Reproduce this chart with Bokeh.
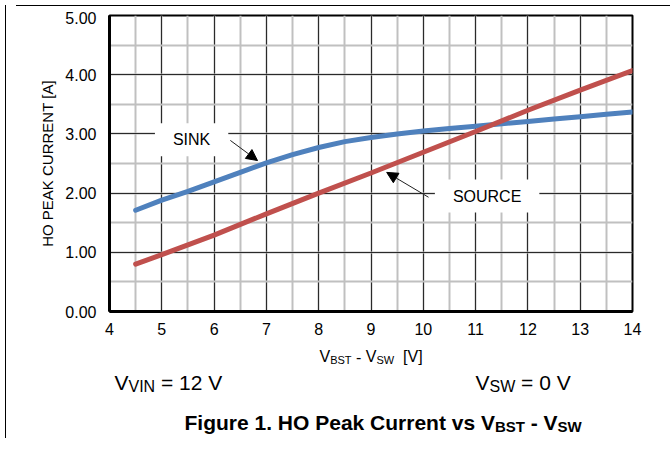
from bokeh.plotting import figure
from bokeh.models import (Label, Arrow, NormalHead, Range1d, SingleIntervalTicker,
                          NumeralTickFormatter, Div)
from bokeh.layouts import column, row
from bokeh.embed import file_html
from bokeh.resources import INLINE

# ---------------- data ----------------
sink_voltage = [4.5, 5.0, 5.5, 6.0, 6.5, 7.0, 7.5, 8.0, 8.5, 9.0, 9.5,
                10.0, 10.5, 11.0, 11.5, 12.0, 12.5, 13.0, 13.5, 14.0]
sink_current = [1.71, 1.88, 2.03, 2.19, 2.35, 2.51, 2.65, 2.77, 2.87, 2.94, 3.00,
                3.05, 3.09, 3.13, 3.17, 3.21, 3.25, 3.29, 3.33, 3.37]
source_voltage = [4.5, 5.0, 6.0, 7.0, 8.0, 9.0, 10.0, 11.0, 12.0, 13.0, 14.0]
source_current = [0.80, 0.96, 1.29, 1.65, 2.00, 2.34, 2.69, 3.04, 3.40, 3.74, 4.07]

x_min, x_max = 4, 14
y_min, y_max = 0, 5

FONT = "Liberation Sans"

# page geometry
PAGE_L, PAGE_T = 8, 8
COL_X = PAGE_L + 1          # after the 1px left rule
MAIN_TOP = PAGE_T + 1       # after the 1px top rule
MAIN_H = 336
NOTES_H = 96
FIG_W = 654
FRAME_L, FRAME_R = 107, 630
BL = FRAME_L - COL_X
BR = (COL_X + FIG_W) - FRAME_R
V_FIX = 2   # empirical vertical offset of the layout

p = figure(width=FIG_W, height=MAIN_H,
           x_range=Range1d(x_min, x_max), y_range=Range1d(y_min, y_max),
           output_backend="svg", toolbar_location=None,
           min_border_left=BL, min_border_right=BR,
           min_border_top=15 - MAIN_TOP - V_FIX,
           min_border_bottom=(MAIN_TOP + MAIN_H) - 311 + V_FIX)

p.background_fill_color = "white"
p.border_fill_color = "white"
p.outline_line_color = "black"
p.outline_line_width = 2

xt = SingleIntervalTicker(interval=1, num_minor_ticks=2)
yt = SingleIntervalTicker(interval=1, num_minor_ticks=2)
p.xaxis.ticker = xt
p.yaxis.ticker = yt
p.xgrid.ticker = xt
p.ygrid.ticker = yt
p.yaxis.formatter = NumeralTickFormatter(format="0.00")

for ax in (p.xaxis[0], p.yaxis[0]):
    ax.axis_line_color = "black"
    ax.axis_line_width = 3
    ax.major_tick_out = 0
    ax.major_tick_in = 0
    ax.minor_tick_out = 0
    ax.minor_tick_in = 0
    ax.major_label_text_font = FONT
    ax.major_label_text_font_size = "16px"
    ax.major_label_text_color = "black"
p.xaxis.major_label_standoff = 11
p.yaxis.major_label_standoff = 13

p.yaxis.axis_label = "HO PEAK CURRENT [A]"
p.yaxis.axis_label_text_font = FONT
p.yaxis.axis_label_text_font_size = "15px"
p.yaxis.axis_label_text_font_style = "normal"
p.yaxis.axis_label_text_color = "black"
p.yaxis.axis_label_standoff = 6

for g in (p.xgrid[0], p.ygrid[0]):
    g.grid_line_color = "#2a2a2a"
    g.grid_line_width = 1
    g.minor_grid_line_color = "#c0c0c0"
    g.minor_grid_line_width = 2
    g.level = "underlay"

p.line(sink_voltage, sink_current, line_color="#4F81BD", line_width=5, line_cap="round")
p.line(source_voltage, source_current, line_color="#C0504D", line_width=5, line_cap="round")

# annotation boxes
p.add_layout(Label(x=5.57, y=2.90, text="SINK", text_font=FONT, text_font_size="16px",
                   text_align="center", text_baseline="middle", text_color="black",
                   background_fill_color="white",
                   padding=dict(left=18, right=18, top=8, bottom=8)))
p.add_layout(Label(x=11.22, y=1.95, text="SOURCE", text_font=FONT, text_font_size="16px",
                   text_align="center", text_baseline="middle", text_color="black",
                   background_fill_color="white",
                   padding=dict(left=18, right=18, top=8, bottom=8)))

p.add_layout(Arrow(x_start=6.31, y_start=2.89, x_end=6.83, y_end=2.55,
                   line_color="#202020", line_width=1,
                   end=NormalHead(size=11, fill_color="black", line_color="black")))
p.add_layout(Arrow(x_start=10.10, y_start=1.93, x_end=9.30, y_end=2.35,
                   line_color="#202020", line_width=1,
                   end=NormalHead(size=11, fill_color="black", line_color="black")))

# ---------------- notes panel (page-pixel data coordinates) ----------------
NOTES_TOP = MAIN_TOP + MAIN_H
Y_FIX = 10   # empirical layout offset of the second panel
q = figure(width=FIG_W, height=NOTES_H,
           x_range=Range1d(FRAME_L, FRAME_R),
           y_range=Range1d(NOTES_TOP + NOTES_H + Y_FIX, NOTES_TOP + Y_FIX),
           output_backend="svg", toolbar_location=None,
           x_axis_location=None, y_axis_location=None,
           min_border_left=BL, min_border_right=BR, min_border_top=0, min_border_bottom=0)
q.grid.visible = False
q.outline_line_color = None
q.background_fill_color = "white"
q.border_fill_color = "white"

W_REG = {'V': 667, 'I': 278, 'N': 722, 'B': 667, 'S': 667, 'T': 611, 'W': 944, ' ': 278,
         '-': 333, '[': 278, ']': 278, '=': 584, '0': 556, '1': 556, '2': 556}
W_BOLD = {'F': 611, 'i': 278, 'g': 611, 'u': 611, 'r': 389, 'e': 556, ' ': 278, '1': 556,
          '.': 278, 'H': 722, 'O': 778, 'P': 667, 'a': 556, 'k': 556, 'C': 722, 'n': 611,
          't': 333, 'v': 556, 's': 556, 'V': 667, 'B': 722, 'S': 667, 'T': 611, 'W': 944,
          '-': 333}


def rich(parts, page_x, page_y, bold=False):
    table = W_BOLD if bold else W_REG
    x = page_x
    for txt, size, dy in parts:
        word, wx = "", x
        for ch in txt + "\0":
            if ch in (" ", "\0"):
                if word:
                    q.add_layout(Label(x=wx, y=page_y + dy, text=word,
                                       text_font=FONT, text_font_size=f"{size}px",
                                       text_font_style="bold" if bold else "normal",
                                       text_align="left", text_baseline="alphabetic",
                                       text_color="black"))
                if ch == " ":
                    x += table[' '] * size / 1000
                word, wx = "", x
            else:
                if not word:
                    wx = x
                word += ch
                x += table.get(ch, 556) * size / 1000


rich([("V", 16, 0), ("BST", 11, 3), (" - V", 16, 0), ("SW", 11, 3), ("  [V]", 16, 0)], 317, 364)
rich([("V", 21, 0), ("VIN", 16, 4), (" = 12 V", 21, 0)], 112, 390)
rich([("V", 21, 0), ("SW", 16, 4), (" = 0 V", 21, 0)], 473, 390)
rich([("Figure 1. HO Peak Current vs V", 21, 0), ("BST", 15, 4), (" - V", 21, 0), ("SW", 15, 4)],
     182, 430, bold=True)

top_rule = Div(width=FIG_W, height=1, styles={"background-color": "black"})
left_rule = Div(width=1, height=1 + MAIN_H + NOTES_H, styles={"background-color": "black"})
layout = row(left_rule, column(top_rule, p, q, spacing=0), spacing=0)

open("out.html", "w").write(file_html(layout, INLINE))
